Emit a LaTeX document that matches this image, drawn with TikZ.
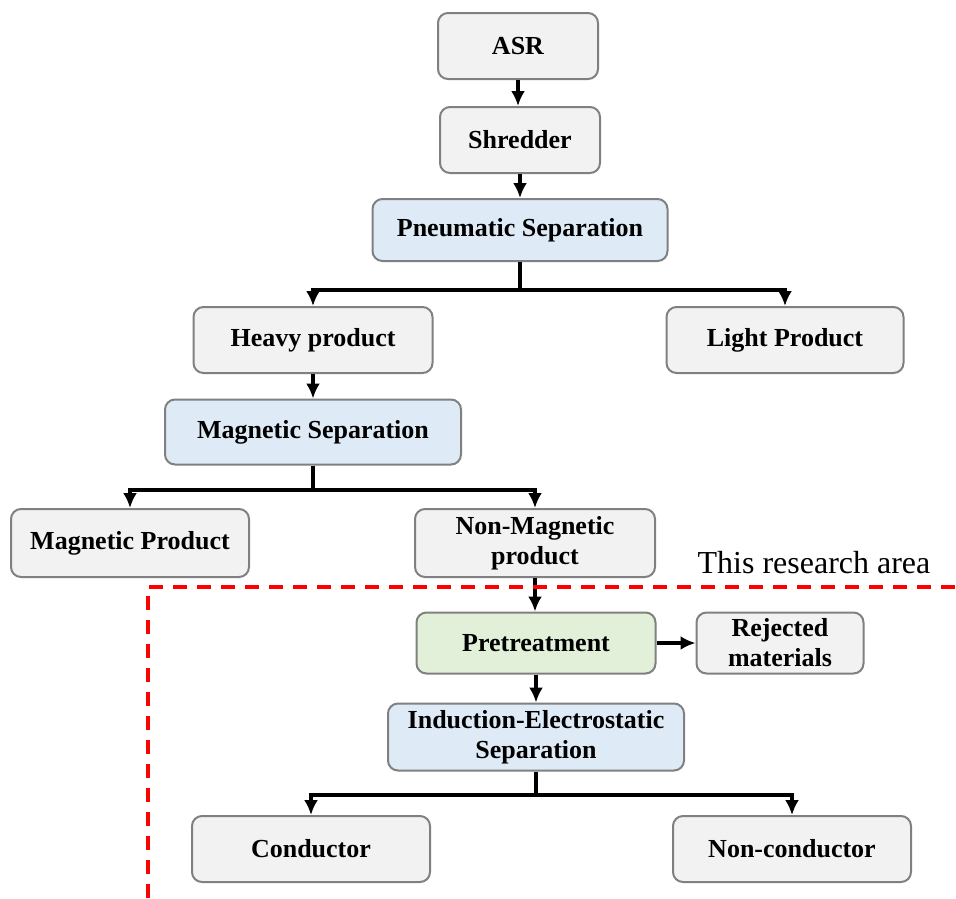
\documentclass[tikz,border=0pt]{standalone}
\usepackage{fontspec}
\setmainfont{Liberation Serif}
\usepackage{xcolor}
\usetikzlibrary{arrows.meta}
\definecolor{boxgray}{RGB}{242,242,242}
\definecolor{boxblue}{RGB}{222,235,247}
\definecolor{boxgreen}{RGB}{226,240,217}
\tikzset{>={Latex[length=15pt,width=14pt]}}

\begin{document}
\begin{tikzpicture}[x=1pt, y=-1pt]
\tikzset{box/.style={draw=black!50, line width=2pt, rounded corners=10pt, fill=boxgray, inner sep=0pt, align=center, font=\fontsize{26}{30}\selectfont\bfseries}}
\tikzset{bluebox/.style={box, fill=boxblue}}
\tikzset{greenbox/.style={box, fill=boxgreen}}
\tikzset{flow/.style={->, line width=3.6pt}}
    \useasboundingbox (0,0) rectangle (956,898);

    \node[box, minimum width=160, minimum height=66] (ASR) at (518,46) {ASR};
    \node[box, minimum width=160, minimum height=66] (Shr) at (520,140) {Shredder};
    \node[bluebox, minimum width=295, minimum height=62] (Pneu) at (520,230) {Pneumatic Separation};

    \node[box, minimum width=239, minimum height=66] (Heavy) at (313,340) {Heavy product};
    \node[box, minimum width=237, minimum height=66] (Light) at (785,340) {Light Product};
    \node[bluebox, minimum width=296, minimum height=65] (MagSep) at (313,432) {Magnetic Separation};

    \node[box, minimum width=238, minimum height=68] (MagProd) at (130,543) {Magnetic Product};
    \node[box, minimum width=240, minimum height=68] (NonMag) at (535,543) {Non-Magnetic\\product};

% % % % % % % % % % % % % % % % % % %
    \node[greenbox, minimum width=239, minimum height=61] (Pre) at (536,643) {Pretreatment};
    \node[box, minimum width=167, minimum height=61] (Rej) at (780,643) {Rejected\\materials};
    \node[bluebox, minimum width=296, minimum height=67] (Ind) at (536,737) {Induction-Electrostatic\\Separation};

    \node[box, minimum width=238, minimum height=66] (Cond) at (311,849) {Conductor};
    \node[box, minimum width=238, minimum height=66] (NonCond) at (792,849) {Non-conductor};

    \coordinate (PneuJ) at (520,290);
    \coordinate (MagJ) at (313,490);
    \coordinate (IndJ) at (536,795);

    \draw[flow] (ASR.south) -- (ASR.south |- Shr.north);
    \draw[flow] (Shr.south) -- (Shr.south |- Pneu.north);

    \draw[line width=3.6pt] (Pneu.south) -- (PneuJ);
    \draw[flow] (PneuJ) -| (Heavy.north);
    \draw[flow] (PneuJ) -| (Light.north);

    \draw[flow] (Heavy) -- (MagSep);
    \draw[line width=3.6pt] (MagSep.south) -- (MagJ);
    \draw[flow] (MagJ) -| (MagProd.north);
    \draw[flow] (MagJ) -| (NonMag.north);

    \draw[flow] (NonMag.south) -- (NonMag.south |- Pre.north);
    \draw[flow] (Pre) -- (Rej);
    \draw[flow] (Pre) -- (Ind);

    \draw[line width=3.6pt] (Ind.south) -- (IndJ);
    \draw[flow] (IndJ) -| (Cond.north);
    \draw[flow] (IndJ) -| (NonCond.north);

% % % % % % % % % % % % % % % % % % %
    \coordinate (Dbot) at (148,898);
    \coordinate (Dcorner) at (148,587);
    \coordinate (Dend) at (956,587);
    \draw[red, line width=3.6pt, dash pattern=on 14pt off 10pt] (Dbot) -- (Dcorner) -- (Dend);

    \node[font=\fontsize{32}{36}\selectfont] (area) at (814,563) {This research area};
\end{tikzpicture}
\end{document}
